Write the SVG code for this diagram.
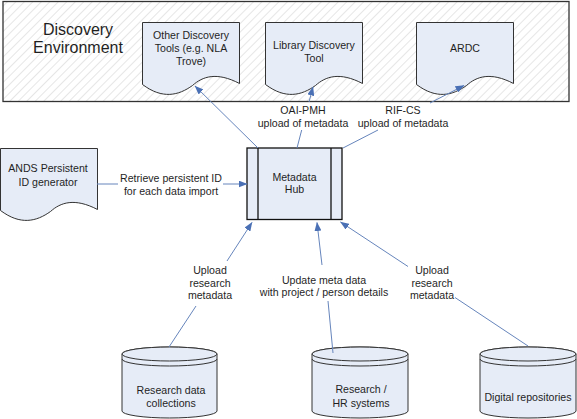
<svg xmlns="http://www.w3.org/2000/svg" width="577" height="419" viewBox="0 0 577 419">
<style>
.t{font-family:"Liberation Sans",Arial,sans-serif;font-size:10.6px;fill:#1f1f1f;text-anchor:middle}
.big{font-size:16px}
.shape{fill:#E6ECF7;stroke:#333;stroke-width:1}
.hub{fill:#E6ECF7;stroke:#111;stroke-width:1.3}
.con{fill:none;stroke:#6685BC;stroke-width:1}
</style>
<defs>
<pattern id="hatch" width="6" height="6" patternUnits="userSpaceOnUse" patternTransform="rotate(45)">
<rect width="6" height="6" fill="#fff"/>
<line x1="0" y1="0" x2="0" y2="6" stroke="#D6D6D6" stroke-width="1.2"/>
</pattern>
<marker id="arr" markerWidth="9" markerHeight="7" refX="8.5" refY="3.5" orient="auto" markerUnits="userSpaceOnUse">
<path d="M0,0 L9,3.5 L0,7 Z" fill="#4A70B5"/>
</marker>
<path id="doc" d="M0,0 H97 V61 C74,49 60,54 50,63 C36,73 20,77 0,62 Z"/>
</defs>

<g id="discovery-environment">
<rect x="3" y="1.5" width="566" height="100" fill="url(#hatch)" stroke="#333" stroke-width="1.3"/>
<text class="t big" x="78" y="35">Discovery</text>
<text class="t big" x="78" y="53">Environment</text>
</g>

<g id="other-discovery-tools">
<use href="#doc" class="shape" transform="translate(142.5,22.5)"/>
<text class="t" x="191" y="39">Other Discovery</text>
<text class="t" x="191" y="52">Tools (e.g. NLA</text>
<text class="t" x="191" y="65">Trove)</text>
</g>

<g id="library-discovery-tool">
<use href="#doc" class="shape" transform="translate(265.5,22.5)"/>
<text class="t" x="314" y="49">Library Discovery</text>
<text class="t" x="314" y="61.5">Tool</text>
</g>

<g id="ardc">
<use href="#doc" class="shape" transform="translate(416.5,22.5)"/>
<text class="t" x="465" y="52">ARDC</text>
</g>

<g id="ands-persistent-id">
<use href="#doc" class="shape" transform="translate(0.5,148.5)"/>
<text class="t" x="48" y="172">ANDS Persistent</text>
<text class="t" x="48" y="186">ID generator</text>
</g>

<g id="metadata-hub">
<rect class="hub" x="247" y="148" width="95" height="71.5"/>
<line x1="258" y1="148" x2="258" y2="219.5" stroke="#111" stroke-width="1.3"/>
<line x1="331" y1="148" x2="331" y2="219.5" stroke="#111" stroke-width="1.3"/>
<text class="t" x="294.5" y="181">Metadata</text>
<text class="t" x="294.5" y="193">Hub</text>
</g>

<g id="research-data-collections">
<path class="shape" d="M122,354 A47.5,7 0 0 1 217,354 V411 A47.5,7 0 0 1 122,411 Z"/>
<ellipse class="shape" cx="169.5" cy="354" rx="47.5" ry="7"/>
<path d="M122,359 A47.5,7 0 0 0 217,359" fill="none" stroke="#333" stroke-width="1"/>
<text class="t" x="171" y="394">Research data</text>
<text class="t" x="171" y="407">collections</text>
</g>

<g id="research-hr-systems">
<path class="shape" d="M312,354 A48,7 0 0 1 408,354 V411 A48,7 0 0 1 312,411 Z"/>
<ellipse class="shape" cx="360" cy="354" rx="48" ry="7"/>
<path d="M312,359 A48,7 0 0 0 408,359" fill="none" stroke="#333" stroke-width="1"/>
<text class="t" x="361" y="393">Research /</text>
<text class="t" x="361" y="407">HR systems</text>
</g>

<g id="digital-repositories">
<path class="shape" d="M480,354 A48,7 0 0 1 576,354 V411 A48,7 0 0 1 480,411 Z"/>
<ellipse class="shape" cx="528" cy="354" rx="48" ry="7"/>
<path d="M480,359 A48,7 0 0 0 576,359" fill="none" stroke="#333" stroke-width="1"/>
<text class="t" x="528" y="401">Digital repositories</text>
</g>

<g id="connectors">
<line class="con" x1="258" y1="148" x2="195" y2="86" marker-end="url(#arr)"/>

<line class="con" x1="297" y1="148" x2="301.7" y2="130"/>
<line class="con" x1="309" y1="102" x2="313" y2="87" marker-end="url(#arr)"/>

<line class="con" x1="343" y1="148" x2="378" y2="130"/>
<line class="con" x1="430" y1="103" x2="464" y2="85.5" marker-end="url(#arr)"/>

<line class="con" x1="97" y1="184" x2="118" y2="184"/>
<line class="con" x1="223" y1="184" x2="247" y2="184" marker-end="url(#arr)"/>

<line class="con" x1="169" y1="347" x2="196" y2="306"/>
<line class="con" x1="227" y1="261" x2="252" y2="222.5" marker-end="url(#arr)"/>

<line class="con" x1="333" y1="353" x2="328" y2="301"/>
<line class="con" x1="322" y1="265" x2="317" y2="222.5" marker-end="url(#arr)"/>

<line class="con" x1="528" y1="346" x2="455" y2="297.5"/>
<line class="con" x1="408" y1="266.5" x2="340.5" y2="222" marker-end="url(#arr)"/>

<text class="t" x="303" y="114">OAI-PMH</text>
<text class="t" x="303" y="126.5">upload of metadata</text>
<text class="t" x="403" y="114">RIF-CS</text>
<text class="t" x="403" y="126.5">upload of metadata</text>
<text class="t" x="171" y="182">Retrieve persistent ID</text>
<text class="t" x="171" y="195">for each data import</text>
<text class="t" x="210" y="274">Upload</text>
<text class="t" x="210" y="286.5">research</text>
<text class="t" x="210" y="299">metadata</text>
<text class="t" x="324" y="283.5">Update meta data</text>
<text class="t" x="324" y="296">with project / person details</text>
<text class="t" x="432" y="274">Upload</text>
<text class="t" x="432" y="286.5">research</text>
<text class="t" x="432" y="299">metadata</text>
</g>
</svg>
